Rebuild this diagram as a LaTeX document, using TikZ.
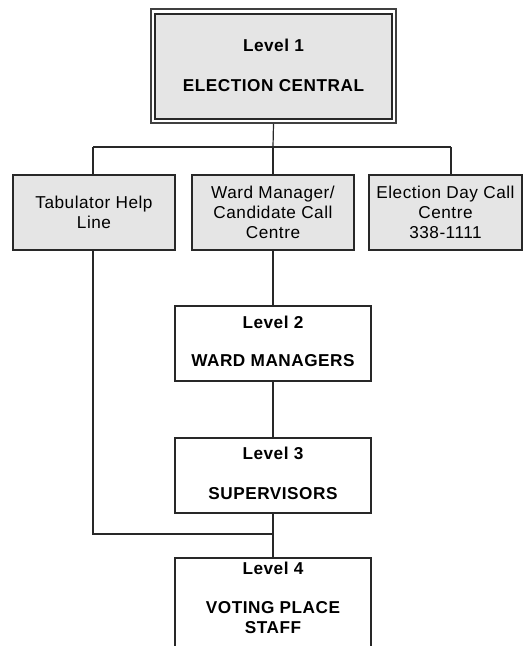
\documentclass[tikz,border=0pt]{standalone}
\usepackage{fontspec}
\setmainfont{Liberation Sans}[LetterSpace=3]
\definecolor{boxgray}{RGB}{229,229,229}
\definecolor{linegray}{RGB}{40,40,40}
\begin{document}
\begin{tikzpicture}[x=1pt,y=-1pt,
  every node/.style={font=\fontsize{17.2}{20}\selectfont, inner sep=0pt, align=center},
  box/.style={draw=linegray, line width=1.2pt, rectangle},
  grey/.style={box, fill=boxgray},
  conn/.style={draw=linegray, line width=1.2pt}]
\useasboundingbox (0,0) rectangle (524,646);
% Level 1
\draw[draw=gray!50!black, line width=1.2pt, fill=white] (151,9) rectangle (396,123);
\node[grey, line width=1.6pt, minimum width=237, minimum height=105] (l1) at (273.5,66.5) {};
\node (l1t) at (273.5,65) {\bfseries Level 1\\[20pt]\bfseries ELECTION CENTRAL};
% second row
\node[grey, minimum width=162, minimum height=75] (tab) at (94,212.5) {Tabulator Help\\Line};
\node[grey, minimum width=162, minimum height=75] (ward) at (273,212.5) {Ward Manager/\\Candidate Call\\Centre};
\node[grey, minimum width=153, minimum height=75] (edc) at (445.5,212.5) {Election Day Call\\Centre\\338-1111};
% levels
\node[box, fill=white, minimum width=196, minimum height=75] (l2) at (273,343.5) {};
\node (l2t) at (273,341) {\bfseries Level 2\\[18pt]\bfseries WARD MANAGERS};
\node[box, fill=white, minimum width=196, minimum height=75] (l3) at (273,475.5) {};
\node (l3t) at (273,473) {\bfseries Level 3\\[20pt]\bfseries SUPERVISORS};
\node[box, fill=white, minimum width=196, minimum height=142] (l4) at (273,629) {};
\node[anchor=north] (l4t) at (273,562) {\bfseries Level 4\\[19pt]\bfseries VOTING PLACE\\\bfseries STAFF};
% connectors
\coordinate (busL) at (93,147);
\coordinate (busC) at (273,147);
\coordinate (busR) at (451,147);
\coordinate (join) at (273,534);
\draw[conn] (l1.south) ++(0,4) -- (busC);
\draw[conn] (busL) -- (busR);
\draw[conn] (busL) -- (busL |- tab.north);
\draw[conn] (busC) -- (ward.north);
\draw[conn] (busR) -- (busR |- edc.north);
\draw[conn] (ward.south) -- (l2.north);
\draw[conn] (l2.south) -- (l3.north);
\draw[conn] (l3.south) -- (l4.north);
\draw[conn] (busL |- tab.south) |- (join);
\end{tikzpicture}
\end{document}
